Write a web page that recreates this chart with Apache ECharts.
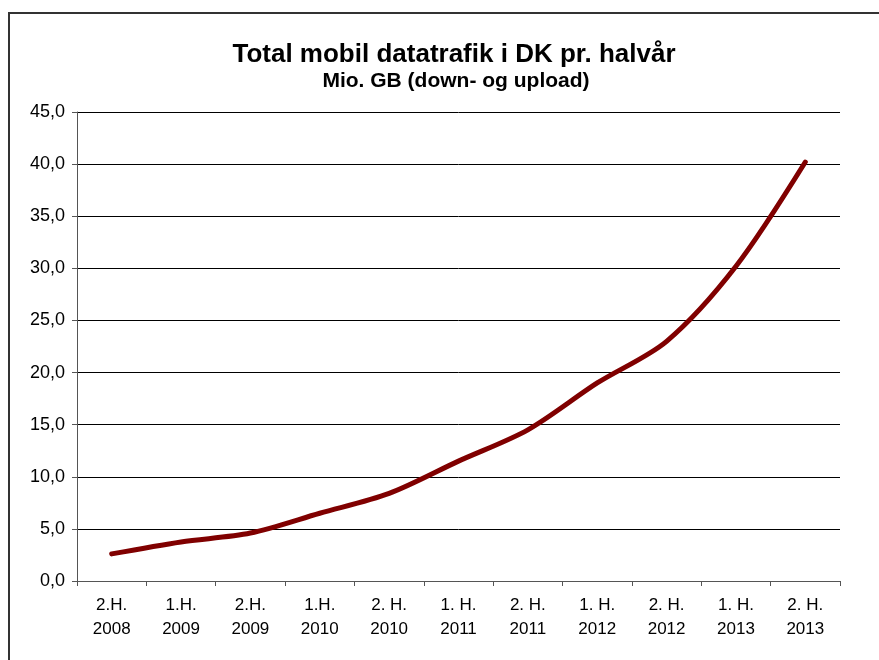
<!DOCTYPE html>
<html>
<head>
<meta charset="utf-8">
<script src="https://cdn.jsdelivr.net/npm/echarts@6/dist/echarts.min.js"></script>
<style>
  html, body { margin: 0; padding: 0; background: #fff; }
  #chart { width: 879px; height: 660px; }
</style>
</head>
<body>
<div id="chart"></div>
<script>
// halvår (x-akse)
const periods = [
  '2.H.\n2008', '1.H.\n2009', '2.H.\n2009', '1.H.\n2010', '2. H.\n2010',
  '1. H.\n2011', '2. H.\n2011', '1. H.\n2012', '2. H.\n2012', '1. H.\n2013', '2. H.\n2013'
]
// Mio. GB pr. halvår
const trafficValues = [2.6, 3.75, 4.6, 6.5, 8.4, 11.5, 14.5, 19.0, 23.0, 30.2, 40.2]
// y-akse
const yMin = 0
const yMax = 45
const yStep = 5

const fontFamily = '"Liberation Sans", Arial, sans-serif'
const myChart = echarts.init(document.getElementById('chart'))

myChart.setOption({
  animation: false,
  title: [{
    text: 'Total mobil datatrafik i DK pr. halvår',
    left: 449,
    top: 37,
    textAlign: 'center',
    textStyle: { fontFamily, fontSize: 26, fontWeight: 'bold', color: '#000' }
  }, {
    text: 'Mio. GB (down- og upload)',
    left: 451,
    top: 66,
    textAlign: 'center',
    textStyle: { fontFamily, fontSize: 21, fontWeight: 'bold', color: '#000' }
  }],
  graphic: [{
    // ramme om diagrammet
    type: 'rect',
    silent: true,
    shape: { x: 9, y: 13, width: 1000, height: 1000 },
    style: { fill: 'none', stroke: '#333', lineWidth: 2 }
  }],
  grid: {
    left: 77,
    right: 39,
    top: 112,
    bottom: 79
  },
  xAxis: {
    type: 'category',
    data: periods,
    boundaryGap: true,
    axisLine: { lineStyle: { color: '#555', width: 1 } },
    axisTick: { show: true, length: 5, lineStyle: { color: '#555' } },
    axisLabel: {
      margin: 12,
      fontFamily,
      fontSize: 17,
      lineHeight: 24,
      color: '#000',
      interval: 0
    }
  },
  yAxis: {
    type: 'value',
    min: yMin,
    max: yMax,
    interval: yStep,
    axisLine: { show: true, lineStyle: { color: '#555', width: 1 } },
    axisTick: { show: true, length: 5, lineStyle: { color: '#555' } },
    axisLabel: {
      margin: 12,
      fontFamily,
      fontSize: 18,
      color: '#000',
      formatter: v => v.toFixed(1).replace('.', ',')
    },
    splitLine: { lineStyle: { color: '#000', width: 1 } }
  },
  series: [{
    type: 'line',
    data: trafficValues,
    smooth: 0.3,
    symbol: 'none',
    lineStyle: { color: '#800000', width: 5, cap: 'round' }
  }]
})
</script>
</body>
</html>
